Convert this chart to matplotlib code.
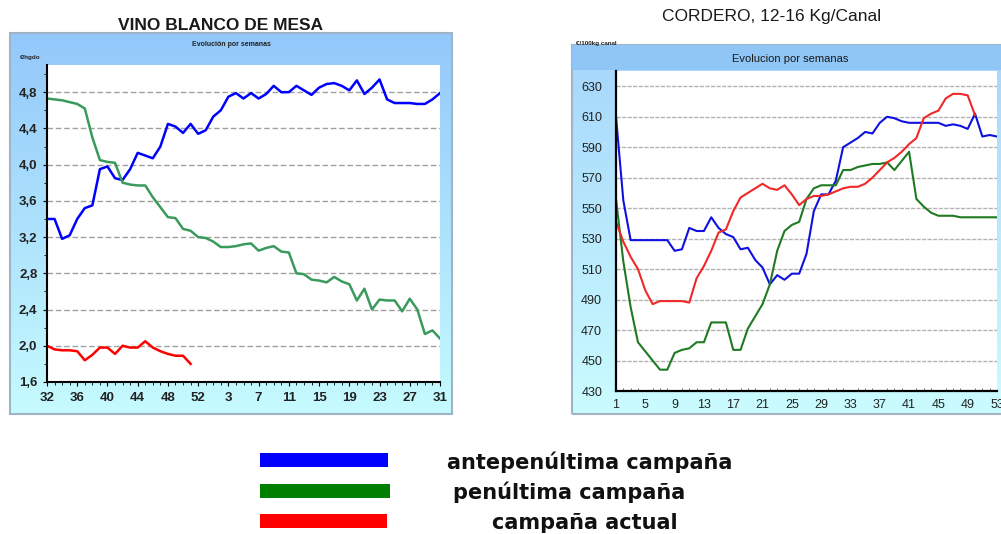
import numpy as np
import matplotlib
matplotlib.use("Agg")
import matplotlib.pyplot as plt
from matplotlib.patches import Rectangle
from matplotlib.colors import LinearSegmentedColormap

plt.rcParams["font.family"] = ["Liberation Sans", "DejaVu Sans"]

# ---- VINO BLANCO DE MESA (euro/hgdo), weeks 32..53 then 1..31
vino_weeks = [32, 33, 34, 35, 36, 37, 38, 39, 40, 41, 42, 43, 44, 45, 46, 47, 48, 49, 50, 51, 52, 53,
              1, 2, 3, 4, 5, 6, 7, 8, 9, 10, 11, 12, 13, 14, 15, 16, 17, 18, 19, 20, 21, 22, 23, 24,
              25, 26, 27, 28, 29, 30, 31]
vino_tick_labels = ["32", "36", "40", "44", "48", "52", "3", "7", "11", "15", "19", "23", "27", "31"]
vino_antepenultima = [3.40, 3.40, 3.18, 3.22, 3.40, 3.52, 3.55, 3.95, 3.98, 3.85, 3.83, 3.95, 4.13, 4.10,
                      4.07, 4.20, 4.45, 4.42, 4.35, 4.45, 4.34, 4.38, 4.53, 4.60, 4.75, 4.79, 4.73, 4.79,
                      4.73, 4.78, 4.87, 4.80, 4.80, 4.87, 4.82, 4.77, 4.85, 4.89, 4.90, 4.87, 4.82, 4.93,
                      4.78, 4.85, 4.94, 4.72, 4.68, 4.68, 4.68, 4.67, 4.67, 4.72, 4.79]
vino_penultima = [4.73, 4.72, 4.71, 4.69, 4.67, 4.62, 4.30, 4.05, 4.03, 4.02, 3.80, 3.78, 3.77, 3.77,
                  3.64, 3.53, 3.42, 3.41, 3.29, 3.27, 3.20, 3.19, 3.15, 3.09, 3.09, 3.10, 3.12, 3.13,
                  3.05, 3.08, 3.10, 3.04, 3.03, 2.80, 2.79, 2.73, 2.72, 2.70, 2.76, 2.71, 2.68, 2.50,
                  2.63, 2.40, 2.51, 2.50, 2.50, 2.38, 2.52, 2.40, 2.13, 2.17, 2.08]
vino_actual = [2.00, 1.96, 1.95, 1.95, 1.94, 1.84, 1.90, 1.98, 1.98, 1.91, 2.00, 1.98, 1.98, 2.05,
               1.98, 1.94, 1.91, 1.89, 1.89, 1.80]

# ---- CORDERO 12-16 Kg/Canal (euro/100kg canal), weeks 1..53
cordero_weeks = list(range(1, 54))
cordero_tick_labels = ["1", "5", "9", "13", "17", "21", "25", "29", "33", "37", "41", "45", "49", "53"]
cordero_antepenultima = [610, 555, 529, 529, 529, 529, 529, 529, 522, 523, 537, 535, 535, 544, 537, 533,
                         531, 523, 524, 516, 511, 500, 506, 503, 507, 507, 520, 548, 559, 559, 568, 590,
                         593, 596, 600, 599, 606, 610, 609, 607, 606, 606, 606, 606, 606, 604, 605, 604,
                         602, 612, 597, 598, 597]
cordero_penultima = [556, 515, 485, 462, 456, 450, 444, 444, 455, 457, 458, 462, 462, 475, 475, 475, 457,
                     457, 471, 479, 487, 500, 522, 535, 539, 541, 556, 563, 565, 565, 565, 575, 575, 577,
                     578, 579, 579, 580, 575, 581, 587, 556, 551, 547, 545, 545, 545, 544, 544, 544, 544,
                     544, 544]
cordero_actual = [541, 528, 518, 510, 496, 487, 489, 489, 489, 489, 488, 504, 512, 522, 534, 536, 548, 557,
                  560, 563, 566, 563, 562, 565, 559, 552, 556, 558, 558, 559, 561, 563, 564, 564, 566, 570,
                  575, 580, 583, 587, 592, 596, 609, 612, 614, 622, 625, 625, 624, 611]

legend_labels = ["antepenúltima campaña", "penúltima campaña", "campaña actual"]
legend_colors = ["#0000ff", "#008000", "#ff0000"]

W, H = 1001, 534


def box(l, t, r, b):
    return [l / W, 1 - b / H, (r - l) / W, (b - t) / H]


def panel(fig, l, t, r, b, top, bottom):
    ax = fig.add_axes(box(l, t, r, b), zorder=0)
    cmap = LinearSegmentedColormap.from_list("g", [top, bottom])
    ax.imshow(np.linspace(0, 1, 256).reshape(-1, 1), aspect="auto", cmap=cmap,
              extent=[0, 1, 0, 1])
    ax.add_patch(Rectangle((0, 0), 1, 1, transform=ax.transAxes, fill=False,
                           edgecolor="#9fb4c6", lw=1.5, clip_on=False))
    ax.set_axis_off()
    return ax


fig = plt.figure(figsize=(W / 100, H / 100), dpi=100)
fig.patch.set_facecolor("white")

# ---------------- left chart
panel(fig, 10, 33, 452, 414, "#93c8fb", "#c6fbff")
fig.text(221 / W, 1 - 26 / H, "VINO BLANCO DE MESA", ha="center", va="center",
         fontsize=12.5, fontweight="bold", color="#1a1a1a")
fig.text(231 / W, 1 - 44 / H, "Evolución por semanas", ha="center", va="center",
         fontsize=5, fontweight="bold", color="#222222")
fig.text(20 / W, 1 - 58 / H, "€/hgdo", ha="left", va="center", fontsize=4.5,
         fontweight="bold", color="#222222")

ax1 = fig.add_axes(box(47, 65, 440, 382), zorder=2)
ax1.set_facecolor("white")
x1 = np.arange(len(vino_weeks))
ax1.plot(x1, vino_antepenultima, color="#0000ff", lw=1.8, solid_joinstyle="round")
ax1.plot(x1, vino_penultima, color="#3a9a5c", lw=1.8, solid_joinstyle="round")
ax1.plot(x1[:len(vino_actual)], vino_actual, color="#ff0000", lw=1.8, solid_joinstyle="round")
ax1.set_xlim(0, 52)
ax1.set_ylim(1.6, 5.1)
ax1.set_xticks(x1[::4])
ax1.set_xticklabels(vino_tick_labels)
ax1.set_xticks(x1, minor=True)
yt = np.arange(1.6, 4.81, 0.4)
ax1.set_yticks(yt)
ax1.set_yticklabels([f"{v:.1f}".replace(".", ",") for v in yt])
ax1.set_yticks(np.arange(1.8, 5.1, 0.2), minor=True)
ax1.yaxis.grid(True, which="major", color="#a0a0a0", lw=1.0, ls=(0, (4, 2)))
ax1.set_axisbelow(True)
for s in ["top", "right"]:
    ax1.spines[s].set_visible(False)
for s in ["left", "bottom"]:
    ax1.spines[s].set_linewidth(1.5)
ax1.tick_params(which="major", length=3, labelsize=9.5, labelcolor="#222222", pad=4)
ax1.tick_params(which="minor", length=2)
for lab in ax1.get_xticklabels() + ax1.get_yticklabels():
    lab.set_fontweight("bold")

# ---------------- right chart
panel(fig, 572, 45, 1010, 414, "#a6d6fb", "#cafcff")
band = fig.add_axes(box(572, 45, 1010, 70), zorder=1)
band.set_facecolor("#8fc6f5")
band.set_xticks([])
band.set_yticks([])
for s in band.spines.values():
    s.set_visible(False)
fig.text(772 / W, 1 - 17 / H, "CORDERO, 12-16 Kg/Canal", ha="center", va="center",
         fontsize=12.5, color="#1a1a1a")
fig.text(790 / W, 1 - 59 / H, "Evolucion por semanas", ha="center", va="center",
         fontsize=8, color="#1a1a1a", zorder=5)
fig.text(576 / W, 1 - 44 / H, "€/100kg canal", ha="left", va="center", fontsize=4.5,
         fontweight="bold", color="#222222", zorder=5)

ax2 = fig.add_axes(box(616, 71, 997, 391), zorder=2)
ax2.set_facecolor("white")
x2 = np.arange(len(cordero_weeks))
ax2.plot(x2, cordero_antepenultima, color="#1010e0", lw=1.5)
ax2.plot(x2, cordero_penultima, color="#1f7a22", lw=1.5)
ax2.plot(x2[:len(cordero_actual)], cordero_actual, color="#f02828", lw=1.5)
ax2.set_xlim(0, 52)
ax2.set_ylim(430, 640)
ax2.set_xticks(x2[::4])
ax2.set_xticklabels(cordero_tick_labels)
ax2.set_xticks(x2, minor=True)
ax2.set_yticks(np.arange(430, 631, 20))
ax2.yaxis.grid(True, color="#b4b4b4", lw=1.0, ls=(0, (3, 1)))
ax2.set_axisbelow(True)
for s in ["top", "right"]:
    ax2.spines[s].set_visible(False)
for s in ["left", "bottom"]:
    ax2.spines[s].set_linewidth(1.6)
ax2.tick_params(which="major", length=0, labelsize=9, labelcolor="#222222", pad=6)
ax2.tick_params(axis="x", which="minor", direction="in", length=2, color="#555555")
ax2.tick_params(axis="y", pad=10)

# ---------------- legend
leg_rows = [(453, 467, 388, 590, 462), (484, 498, 390, 569, 492), (514, 528, 387, 585, 523)]
for (t, b, r, tx, ty), lab, col in zip(leg_rows, legend_labels, legend_colors):
    fig.add_artist(Rectangle((260 / W, 1 - b / H), (r - 260) / W, (b - t) / H,
                             transform=fig.transFigure, facecolor=col, edgecolor="none"))
    fig.text(tx / W, 1 - ty / H, lab, ha="center", va="center", fontsize=15,
             fontweight="bold", color="#111111", family=["DejaVu Sans"])

fig.savefig("out.png", dpi=100)
